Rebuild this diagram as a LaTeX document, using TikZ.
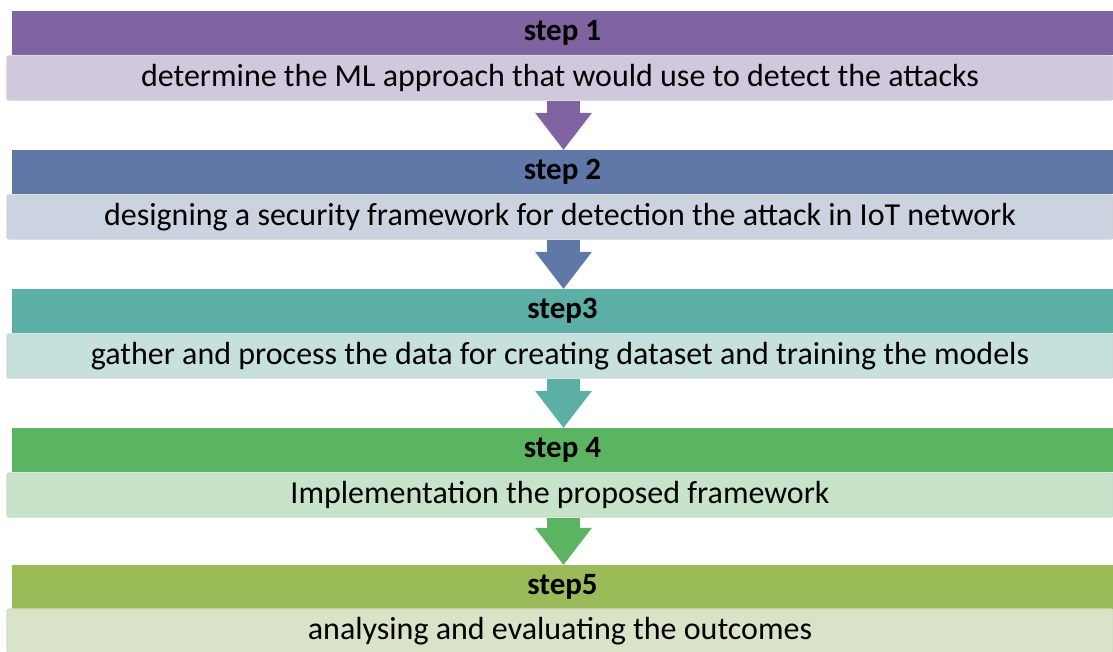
\documentclass[tikz,border=0pt]{standalone}
\usepackage{fontspec}
\setmainfont{Carlito}
\usetikzlibrary{arrows.meta}

\definecolor{hdone}{HTML}{8064A2}
\definecolor{bdone}{HTML}{D0C8DD}
\definecolor{hdtwo}{HTML}{5F78A8}
\definecolor{bdtwo}{HTML}{CBD2E0}
\definecolor{hdthree}{HTML}{5BAFA5}
\definecolor{bdthree}{HTML}{C6E0DD}
\definecolor{hdfour}{HTML}{5BB462}
\definecolor{bdfour}{HTML}{C7E3C9}
\definecolor{hdfive}{HTML}{9BBB59}
\definecolor{bdfive}{HTML}{D9E3C7}

\tikzset{
  head/.style={fill=#1, inner sep=0, minimum width=1101pt, minimum height=44pt,
    font=\fontsize{31}{34}\selectfont\bfseries},
  body/.style={fill=#1, draw=#1!85!black!60!white, line width=1.2pt, rounded corners=2pt,
    inner sep=0, minimum width=1106pt, minimum height=44pt, font=\fontsize{32}{36}\selectfont},
  blockarrow/.style={draw=#1, line width=33pt,
    -{Triangle[width=57pt,length=37pt,line width=0pt]}}
}

\begin{document}
\begin{tikzpicture}[x=1pt,y=-1pt]
\useasboundingbox (0,0) rectangle (1113,651);

\node[head=hdone] (h1) at (562.5,33) {step 1};
\node[body=bdone] (b1) at (560,78) {determine the ML approach that would use to detect the attacks};

\node[head=hdtwo] (h2) at (562.5,172) {step 2};
\node[body=bdtwo] (b2) at (560,217) {designing a security framework for detection the attack in IoT network};

\node[head=hdthree] (h3) at (562.5,311) {step3};
\node[body=bdthree] (b3) at (560,356) {gather and process the data for creating dataset and training the models};

\node[head=hdfour] (h4) at (562.5,450) {step 4};
\node[body=bdfour] (b4) at (560,495) {Implementation the proposed framework};

\node[head=hdfive] (h5) at (562.5,587) {step5};
\node[body=bdfive] (b5) at (560,631) {analysing and evaluating the outcomes};

\draw[blockarrow=hdone] ([xshift=3.5pt]b1.south) -- ([xshift=1pt]h2.north);
\draw[blockarrow=hdtwo] ([xshift=3.5pt]b2.south) -- ([xshift=1pt]h3.north);
\draw[blockarrow=hdthree] ([xshift=3.5pt]b3.south) -- ([xshift=1pt]h4.north);
\draw[blockarrow=hdfour] ([xshift=3.5pt]b4.south) -- ([xshift=1pt]h5.north);
\end{tikzpicture}
\end{document}
